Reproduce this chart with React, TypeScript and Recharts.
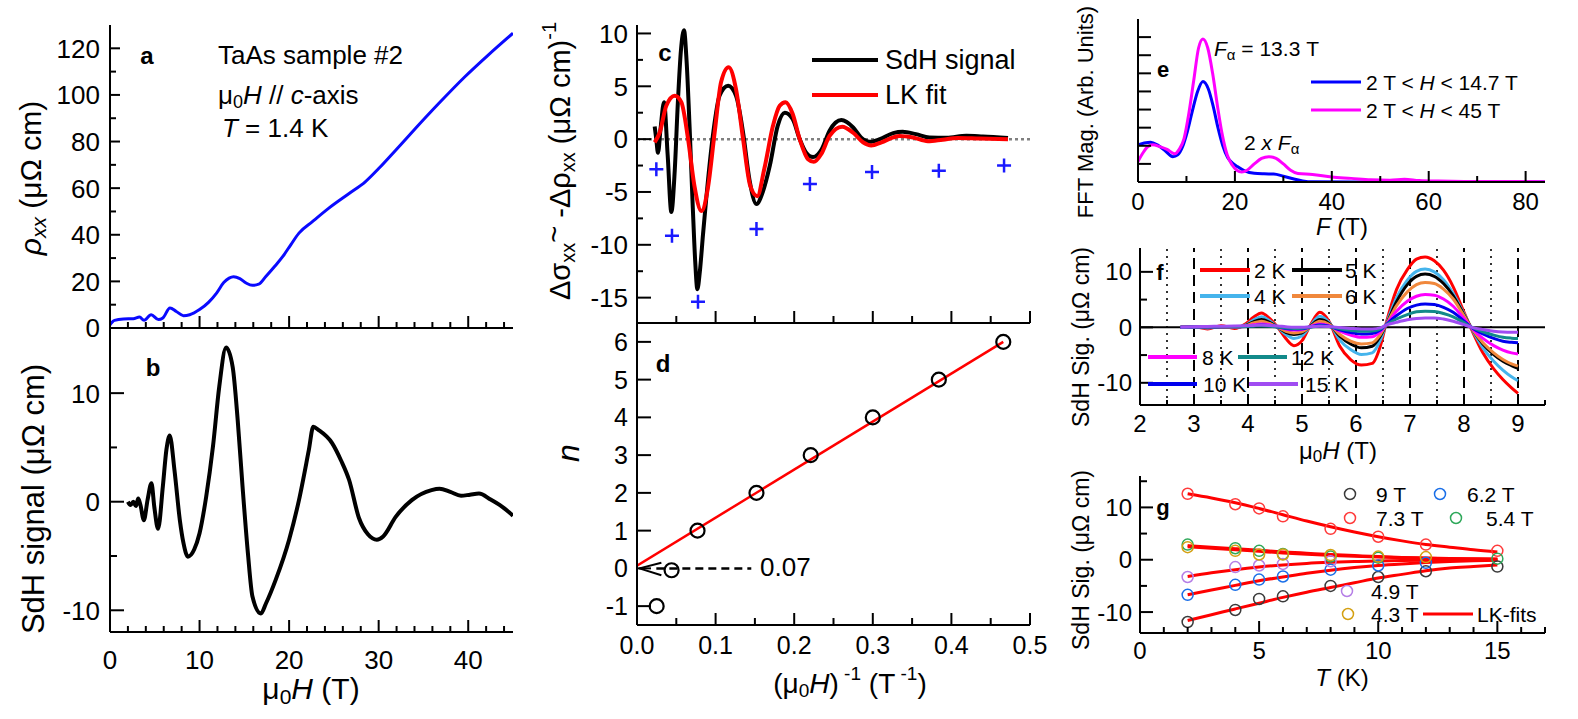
import React from 'react';
import { ComposedChart, Line, Scatter, XAxis, YAxis, ReferenceLine } from 'recharts';

const FONT = '"Liberation Sans", Arial, Helvetica, sans-serif';

// ---------- (a) resistivity vs field ----------
const rhoField = [0, 0.5, 1.5, 2.6, 3.3, 3.8, 4.6, 5.4, 5.9, 6.7, 7.4, 8.2, 8.9, 10, 11, 11.9, 12.7, 13.3, 13.8, 14.5, 15.2, 15.9, 16.6, 17.4, 18.4, 19.3, 20.2, 21.1, 22.6, 24.4, 26.7, 28.5, 30, 31.9, 34.1, 36.7, 39.6, 42.2, 45];
const rhoValue = [1.4, 3.3, 3.9, 4.0, 4.7, 3.3, 5.7, 3.6, 4.3, 8.6, 7.1, 5.3, 5.7, 7.9, 11, 15, 19.5, 21.4, 22.0, 21.2, 19.3, 18.3, 18.8, 22.1, 26.5, 30.7, 35.8, 40.7, 45.6, 51.3, 57.7, 62.7, 68.4, 76.3, 85.6, 96.3, 107.7, 117, 126.5];

// ---------- (b) SdH signal vs field ----------
const sdhField = [2.0, 2.3, 2.6, 2.9, 3.15, 3.4, 3.78, 4.2, 4.63, 4.95, 5.37, 5.9, 6.3, 6.67, 7.2, 7.8, 8.2, 8.7, 9.4, 10.0, 10.74, 11.5, 12.2, 12.96, 13.7, 14.26, 14.8, 15.4, 15.9, 16.85, 17.4, 18.5, 20.0, 21.1, 22.2, 22.7, 23.3, 24.8, 25.8, 26.7, 27.8, 28.8, 29.8, 30.5, 31.9, 33.7, 35.9, 36.8, 38.0, 39.2, 40.2, 41.2, 42.5, 43.5, 44.6, 45.0];
const sdhValue = [0, -0.3, 0.0, -0.4, 0.3, -0.3, -1.7, 0.2, 1.7, -0.5, -2.5, 1.4, 4.8, 6.1, 2.9, -1.7, -3.8, -5.06, -4.4, -2.9, 0.46, 5.1, 10.6, 14.2, 12.4, 7.5, 1.4, -4.75, -8.7, -10.3, -9.4, -7.2, -3.5, 0.15, 4.75, 6.9, 6.6, 5.4, 3.8, 2.0, -1.5, -3.0, -3.5, -3.2, -1.4, 0.15, 1.07, 1.2, 0.9, 0.55, 0.65, 0.75, 0.2, -0.3, -1.0, -1.3];

// ---------- (c) oscillatory conductivity vs inverse field ----------
const sigInvField = [0.0225, 0.0245, 0.0267, 0.03, 0.0344, 0.039, 0.0437, 0.048, 0.052, 0.056, 0.0598, 0.063, 0.067, 0.071, 0.074, 0.0768, 0.08, 0.084, 0.088, 0.097, 0.105, 0.116, 0.126, 0.135, 0.143, 0.152, 0.16, 0.169, 0.179, 0.188, 0.198, 0.207, 0.215, 0.224, 0.235, 0.245, 0.26, 0.275, 0.285, 0.296, 0.309, 0.326, 0.338, 0.355, 0.372, 0.394, 0.419, 0.44, 0.472];
const sigValue = [1.2, 0.0, -1.3, 1.0, 3.5, -1.5, -6.9, -3.0, 3.5, 8.5, 10.3, 7.5, 1.0, -6.5, -11.5, -14.2, -12.5, -9.0, -5.7, 0.6, 4.1, 5.05, 4.1, 0.6, -3.8, -6.15, -5.0, -2.5, 1.26, 2.5, 1.9, 0.0, -1.26, -1.7, -0.95, 0.8, 1.8, 1.1, 0.16, -0.25, 0.0, 0.57, 0.7, 0.47, 0.16, 0.13, 0.32, 0.25, 0.1];
const lkInvField = [0.0225, 0.0288, 0.0373, 0.048, 0.0564, 0.065, 0.073, 0.082, 0.09, 0.0988, 0.107, 0.1166, 0.126, 0.135, 0.144, 0.153, 0.162, 0.173, 0.1815, 0.189, 0.198, 0.207, 0.2176, 0.225, 0.2345, 0.245, 0.261, 0.275, 0.2875, 0.298, 0.311, 0.326, 0.334, 0.351, 0.37, 0.389, 0.408, 0.436, 0.472];
const lkValue = [-0.3, 0.6, 3.15, 4.1, 3.5, 0.0, -4.4, -6.8, -4.7, 0.63, 5.4, 6.8, 4.7, 0.0, -4.4, -5.4, -2.8, 1.26, 3.15, 3.5, 2.4, 0.0, -1.9, -2.15, -1.4, 0.3, 1.17, 0.6, -0.3, -0.6, -0.3, 0.16, 0.3, 0.16, -0.2, -0.05, 0.1, 0.05, 0.0];
const extremaInvField = [0.0246, 0.0445, 0.0776, 0.152, 0.22, 0.299, 0.384, 0.467];
const extremaValue = [-2.85, -9.15, -15.4, -8.5, -4.25, -3.1, -3.0, -2.5];

// ---------- (d) Landau level fan ----------
const fanInvField = [0.025, 0.044, 0.077, 0.152, 0.221, 0.3, 0.384, 0.466];
const fanIndex = [-1, -0.05, 1, 2, 3, 4, 5, 6];
const fanFitInvField = [0, 0.466];
const fanFitIndex = [0.07, 6.0];
const interceptLabel = '0.07';

// ---------- (e) FFT spectra ----------
const fftShortF = [0, 1.3, 2.6, 4, 5.5, 7.2, 8.2, 9.2, 10.2, 11.2, 12.3, 13.4, 14.5, 15.5, 16.5, 17.5, 18.5, 19.5, 20.5, 22, 24, 26, 28, 30, 32, 34, 36, 45, 84];
const fftShortMag = [2.05, 2.15, 2.2, 2.05, 1.75, 1.4, 1.5, 1.95, 2.8, 3.9, 5.0, 5.55, 5.15, 4.2, 3.0, 2.0, 1.35, 1.05, 0.85, 0.62, 0.48, 0.45, 0.44, 0.32, 0.18, 0.06, 0.01, 0, 0];
const fftFullF = [0, 1, 2, 3, 4.5, 6, 7.6, 8.5, 9.5, 10.5, 11.5, 12.5, 13.4, 14.4, 15.4, 16.4, 17.4, 18.4, 19.4, 20.4, 21.4, 22.5, 24, 25.5, 27, 28.5, 30, 31.5, 33, 36, 40, 44, 48, 52, 55, 58, 62, 70, 84];
const fftFullMag = [1.13, 1.6, 1.95, 2.05, 1.95, 1.8, 1.56, 1.8, 2.4, 3.8, 5.6, 7.4, 7.9, 7.4, 6.0, 4.2, 2.6, 1.5, 0.95, 0.65, 0.55, 0.65, 1.0, 1.3, 1.4, 1.3, 1.0, 0.65, 0.47, 0.42, 0.27, 0.2, 0.12, 0.1, 0.15, 0.08, 0.05, 0.03, 0.02];

// ---------- (f) SdH signal at several temperatures ----------
const tempField = [2.75, 3.0, 3.25, 3.5, 3.75, 3.95, 4.1, 4.25, 4.4, 4.55, 4.7, 4.85, 5.0, 5.15, 5.33, 5.5, 5.7, 5.9, 6.1, 6.3, 6.45, 6.56, 6.75, 6.95, 7.12, 7.28, 7.45, 7.62, 7.8, 7.98, 8.15, 8.35, 8.55, 8.72, 8.88, 9.0];
const sdh2K = [0, 0.1, -0.3, 0.3, -0.2, 0.6, 1.8, 2.6, 1.6, 0, -2.0, -3.3, -2.4, 0.3, 2.7, 1.1, -3.4, -5.8, -6.8, -6.5, -3.4, 0.8, 6.8, 10.4, 12.3, 12.7, 12.0, 10.3, 7.3, 3.2, -0.6, -4.6, -7.5, -9.4, -10.9, -11.9];
const sdh4K = [0, 0.05, -0.1, 0.1, 0, 0.4, 1.3, 1.9, 1.2, 0, -1.3, -2.0, -1.5, 0.2, 2.0, 0.9, -2.3, -4.0, -4.9, -4.6, -2.3, 0.6, 5.3, 8.5, 10.1, 10.5, 10.0, 8.6, 6.1, 2.8, -0.4, -3.7, -6.1, -7.7, -8.9, -9.6];
const sdh5K = [0, 0, 0, 0.05, 0, 0.3, 1.0, 1.4, 0.9, 0, -0.9, -1.3, -1.0, 0.15, 1.4, 0.7, -1.6, -3.0, -3.7, -3.4, -1.6, 0.5, 4.6, 7.7, 9.2, 9.6, 9.2, 7.9, 5.7, 2.6, -0.3, -3.0, -4.9, -6.1, -6.9, -7.4];
const sdh6K = [0, 0, 0, 0.05, 0, 0.25, 0.8, 1.1, 0.7, 0, -0.7, -1.0, -0.8, 0.1, 1.1, 0.55, -1.3, -2.5, -3.0, -2.8, -1.3, 0.5, 3.9, 6.4, 7.7, 8.1, 7.9, 6.9, 5.1, 2.4, -0.3, -2.8, -4.6, -5.8, -6.6, -7.0];
const sdh8K = [0, 0.05, 0.05, 0.1, 0.1, 0.2, 0.45, 0.6, 0.45, 0.05, -0.3, -0.5, -0.4, 0.1, 0.6, 0.3, -0.7, -1.4, -1.8, -1.7, -0.8, 0.5, 2.9, 4.7, 5.6, 5.9, 5.8, 5.1, 3.8, 1.8, -0.2, -2.0, -3.3, -4.1, -4.6, -4.8];
const sdh10K = [0, 0.05, 0.05, 0.1, 0.1, 0.15, 0.3, 0.4, 0.3, 0.05, -0.2, -0.3, -0.25, 0.05, 0.4, 0.2, -0.45, -0.95, -1.2, -1.1, -0.5, 0.5, 2.1, 3.4, 4.0, 4.2, 4.1, 3.6, 2.7, 1.3, -0.1, -1.2, -2.0, -2.5, -2.7, -2.8];
const sdh12K = [0, 0.05, 0.05, 0.1, 0.1, 0.15, 0.2, 0.25, 0.2, 0.05, -0.1, -0.2, -0.15, 0.05, 0.25, 0.15, -0.25, -0.55, -0.7, -0.65, -0.3, 0.45, 1.5, 2.3, 2.8, 2.9, 2.85, 2.5, 1.9, 0.95, 0, -0.8, -1.4, -1.8, -1.95, -2.0];
const sdh15K = [0, 0.1, 0.15, 0.2, 0.25, 0.3, 0.35, 0.4, 0.35, 0.25, 0.1, 0, 0, 0.1, 0.2, 0.15, -0.05, -0.2, -0.3, -0.3, -0.1, 0.4, 0.9, 1.35, 1.6, 1.7, 1.7, 1.5, 1.1, 0.55, 0, -0.4, -0.7, -0.85, -0.9, -0.9];
const tempLabels = ['2 K', '4 K', '5 K', '6 K', '8 K', '10 K', '12 K', '15 K'];
const halfTeslaMarks = [2.5, 3.5, 4.5, 5.5, 6.5, 7.5, 8.5];
const teslaMarks = [3, 4, 5, 6, 7, 8, 9];

// ---------- (g) amplitude vs temperature ----------
const fitTemp = [2, 3, 4, 5, 6, 7, 8, 9, 10, 11, 12, 13, 14, 15];
const fit9T = [-11.6, -10.5, -9.4, -8.3, -7.2, -6.2, -5.3, -4.4, -3.5, -2.8, -2.1, -1.6, -1.3, -1.0];
const fit73T = [12.6, 11.8, 10.9, 9.8, 8.6, 7.4, 6.3, 5.3, 4.4, 3.6, 2.9, 2.4, 1.9, 1.5];
const fit62T = [-6.7, -5.8, -4.9, -4.0, -3.3, -2.6, -2.0, -1.5, -1.1, -0.8, -0.55, -0.35, -0.2, -0.1];
const fit54T = [2.7, 2.4, 2.1, 1.8, 1.5, 1.25, 1.0, 0.8, 0.6, 0.45, 0.35, 0.25, 0.18, 0.12];
const fit49T = [-3.2, -2.5, -1.9, -1.4, -1.0, -0.7, -0.5, -0.35, -0.22, -0.15, -0.1, -0.06, -0.03, 0];
const fit43T = [2.5, 2.2, 1.9, 1.6, 1.3, 1.05, 0.85, 0.65, 0.5, 0.38, 0.28, 0.2, 0.14, 0.1];
const amp9TTemp = [2, 4, 5, 6, 8, 10, 12, 15];
const amp9T = [-11.9, -9.6, -7.5, -7.0, -5.0, -3.3, -2.2, -1.3];
const amp73TTemp = [2, 4, 5, 6, 8, 10, 12, 15];
const amp73T = [12.6, 10.6, 9.8, 8.3, 5.9, 4.4, 2.9, 1.7];
const amp62TTemp = [2, 4, 5, 6, 8, 10, 12];
const amp62T = [-6.7, -4.8, -3.8, -3.2, -1.9, -1.1, -0.6];
const amp54TTemp = [2, 4, 5, 6, 8, 10, 15];
const amp54T = [2.9, 2.2, 1.7, 1.1, 0.6, 0.4, 0.2];
const amp49TTemp = [2, 4, 5, 6, 8];
const amp49T = [-3.3, -1.4, -1.1, -0.8, -0.3];
const amp43TTemp = [2, 4, 5, 6, 8, 10, 12];
const amp43T = [2.4, 1.7, 1.0, 1.0, 0.9, 0.6, 0.5];

// ---------- tick lists ----------
const aXTicks = [0, 2, 4, 6, 8, 10, 12, 14, 16, 18, 20, 22, 24, 26, 28, 30, 32, 34, 36, 38, 40, 42, 44];
const aXMajor = [0, 10, 20, 30, 40];
const aYTicks = [0, 10, 20, 30, 40, 50, 60, 70, 80, 90, 100, 110, 120];
const aYMajor = [0, 20, 40, 60, 80, 100, 120];
const bYTicks = [-10, -5, 0, 5, 10];
const bYMajor = [-10, 0, 10];
const cdXTicks = [0, 0.05, 0.1, 0.15, 0.2, 0.25, 0.3, 0.35, 0.4, 0.45, 0.5];
const cdXMajor = [0, 0.1, 0.2, 0.3, 0.4, 0.5];
const cYTicks = [-15, -12.5, -10, -7.5, -5, -2.5, 0, 2.5, 5, 7.5, 10];
const cYMajor = [-15, -10, -5, 0, 5, 10];
const dYTicks = [-1, 0, 1, 2, 3, 4, 5, 6];
const eXTicks = [0, 10, 20, 30, 40, 50, 60, 70, 80];
const eXMajor = [0, 20, 40, 60, 80];
const eYTicks = [1, 2, 3, 4, 5, 6, 7, 8];
const fXTicks = [2, 2.5, 3, 3.5, 4, 4.5, 5, 5.5, 6, 6.5, 7, 7.5, 8, 8.5, 9, 9.5];
const fXMajor = [2, 3, 4, 5, 6, 7, 8, 9];
const fYTicks = [-10, -5, 0, 5, 10];
const fYMajor = [-10, 0, 10];
const gXTicks = [0, 1, 2, 3, 4, 5, 6, 7, 8, 9, 10, 11, 12, 13, 14, 15, 16, 17];
const gXMajor = [0, 5, 10, 15];
const gYTicks = [-10, -5, 0, 5, 10, 15];
const gYMajor = [-10, 0, 10];

const zip = (xs: number[], ys: number[]) => xs.map((x, i) => ({ x, y: ys[i] }));

type Rect = { x: number; y: number; w: number; h: number };
type Plot = { l: number; t: number; w: number; h: number };

const PAD_L = 90;
const PAD_R = 40;
const PAD_T = 18;
const PAD_B = 52;

function makeTick(
  side: 'bottom' | 'top' | 'left' | 'right',
  plot: Plot,
  major: number[],
  len: [number, number],
  label: boolean,
  fs: number,
  off: number,
  fmt: (v: number) => string
) {
  return (t: any) => {
    const v = Number(t.payload.value);
    const isMajor = major.some((m) => Math.abs(m - v) < 1e-6);
    const n = isMajor ? len[0] : len[1];
    const right = plot.l + plot.w;
    const bottom = plot.t + plot.h;
    let mark: React.ReactNode = null;
    let text: React.ReactNode = null;
    if (side === 'bottom') {
      mark = <line x1={t.x} x2={t.x} y1={bottom} y2={bottom - n} />;
      if (label && isMajor)
        text = (
          <text x={t.x} y={bottom + off} textAnchor="middle" dy="0.36em">
            {fmt(v)}
          </text>
        );
    } else if (side === 'top') {
      mark = <line x1={t.x} x2={t.x} y1={plot.t} y2={plot.t + n} />;
    } else if (side === 'left') {
      mark = <line x1={plot.l} x2={plot.l + n} y1={t.y} y2={t.y} />;
      if (label && isMajor)
        text = (
          <text x={plot.l - off} y={t.y} textAnchor="end" dy="0.36em">
            {fmt(v)}
          </text>
        );
    } else {
      mark = <line x1={right} x2={right - n} y1={t.y} y2={t.y} />;
    }
    return (
      <g>
        <g stroke="#000" strokeWidth={2}>
          {mark}
        </g>
        {text ? (
          <g fontSize={fs} fontFamily={FONT} fill="#000" stroke="none">
            {text}
          </g>
        ) : null}
      </g>
    );
  };
}

type PanelProps = {
  rect: Rect;
  xDomain: [number, number];
  yDomain: [number, number];
  xTicks: number[];
  xMajor: number[];
  yTicks: number[];
  yMajor: number[];
  xLabels: boolean;
  yLabels: boolean;
  xFmt?: (v: number) => string;
  fontSize: number;
  xOffset: number;
  yOffset: number;
  xLen: [number, number];
  yLen: [number, number];
  children?: React.ReactNode;
};

function Panel(p: PanelProps) {
  const W = p.rect.w + PAD_L + PAD_R;
  const H = p.rect.h + PAD_T + PAD_B;
  const plot: Plot = { l: PAD_L, t: PAD_T, w: p.rect.w, h: p.rect.h };
  const xf = p.xFmt ?? ((v: number) => String(v));
  const yf = (v: number) => String(v);
  const axisLine = { stroke: '#000', strokeWidth: 2 };
  return (
    <div style={{ position: 'absolute', left: p.rect.x - PAD_L, top: p.rect.y - PAD_T, width: W, height: H }}>
      <ComposedChart width={W} height={H} margin={{ top: PAD_T, right: PAD_R, bottom: 0, left: 0 }} style={{ overflow: 'visible' }}>
        <XAxis
          dataKey="x"
          type="number"
          domain={p.xDomain}
          allowDataOverflow
          ticks={p.xTicks}
          interval={0}
          tickSize={0}
          tickMargin={0}
          tickLine={false}
          axisLine={axisLine}
          height={PAD_B}
          tick={makeTick('bottom', plot, p.xMajor, p.xLen, p.xLabels, p.fontSize, p.xOffset, xf)}
        />
        <XAxis
          xAxisId="top"
          orientation="top"
          type="number"
          domain={p.xDomain}
          allowDataOverflow
          ticks={p.xTicks}
          interval={0}
          tickSize={0}
          tickMargin={0}
          tickLine={false}
          axisLine={axisLine}
          height={0}
          tick={makeTick('top', plot, p.xMajor, p.xLen, false, p.fontSize, 0, xf)}
        />
        <YAxis
          dataKey="y"
          type="number"
          domain={p.yDomain}
          allowDataOverflow
          ticks={p.yTicks}
          interval={0}
          tickSize={0}
          tickMargin={0}
          tickLine={false}
          axisLine={axisLine}
          width={PAD_L}
          tick={makeTick('left', plot, p.yMajor, p.yLen, p.yLabels, p.fontSize, p.yOffset, yf)}
        />
        <YAxis
          yAxisId="right"
          orientation="right"
          type="number"
          domain={p.yDomain}
          allowDataOverflow
          ticks={p.yTicks}
          interval={0}
          tickSize={0}
          tickMargin={0}
          tickLine={false}
          axisLine={axisLine}
          width={0}
          tick={makeTick('right', plot, p.yMajor, p.yLen, false, p.fontSize, 0, yf)}
        />
        {p.children}
      </ComposedChart>
    </div>
  );
}

const tempColors = ['#ff0000', '#45b4ec', '#000000', '#f0883c', '#ff00ff', '#0000ee', '#128a8a', '#a04cf2'];
const tempSeries = [sdh2K, sdh4K, sdh5K, sdh6K, sdh8K, sdh10K, sdh12K, sdh15K];

const ampSets = [
  { label: '9 T', t: amp9TTemp, v: amp9T, color: '#3a3a3a' },
  { label: '7.3 T', t: amp73TTemp, v: amp73T, color: '#ff3b3b' },
  { label: '6.2 T', t: amp62TTemp, v: amp62T, color: '#1a6fe8' },
  { label: '5.4 T', t: amp54TTemp, v: amp54T, color: '#2ea85a' },
  { label: '4.9 T', t: amp49TTemp, v: amp49T, color: '#b57ee6' },
  { label: '4.3 T', t: amp43TTemp, v: amp43T, color: '#d4a012' },
];
const fitSets = [fit9T, fit73T, fit62T, fit54T, fit49T, fit43T];

const ring = (color: string, r: number, w: number) => (s: any) => (
  <circle cx={s.cx} cy={s.cy} r={r} fill="none" stroke={color} strokeWidth={w} />
);
const cross = (s: any) => (
  <path d={`M${s.cx - 7},${s.cy}h14M${s.cx},${s.cy - 7}v14`} stroke="#1a1aff" strokeWidth={2.5} fill="none" />
);

export default function App() {
  const A: Rect = { x: 110, y: 25, w: 403, h: 303 };
  const B: Rect = { x: 110, y: 328, w: 403, h: 304 };
  const C: Rect = { x: 637, y: 25, w: 393, h: 298 };
  const D: Rect = { x: 637, y: 323, w: 393, h: 302 };
  const E: Rect = { x: 1138, y: 19, w: 407, h: 163 };
  const F: Rect = { x: 1140, y: 248, w: 405, h: 157 };
  const G: Rect = { x: 1140, y: 476, w: 405, h: 157 };

  const t = (x: number, y: number, fs: number, content: React.ReactNode, extra: any = {}) => (
    <text x={x} y={y} fontSize={fs} dominantBaseline="central" {...extra}>
      {content}
    </text>
  );

  return (
    <div style={{ position: 'absolute', left: 0, top: 0, width: 1578, height: 719, background: '#fff', overflow: 'hidden' }}>
      {/* (a) */}
      <Panel rect={A} xDomain={[0, 45]} yDomain={[0, 130]} xTicks={aXTicks} xMajor={aXMajor} yTicks={aYTicks} yMajor={aYMajor}
        xLabels={false} yLabels fontSize={26} xOffset={28} yOffset={10} xLen={[12, 6]} yLen={[10, 6]}>
        <Line data={zip(rhoField, rhoValue)} dataKey="y" type="monotone" stroke="#0a0aff" strokeWidth={3} dot={false} isAnimationActive={false} />
      </Panel>
      {/* (b) */}
      <Panel rect={B} xDomain={[0, 45]} yDomain={[-12, 16]} xTicks={aXTicks} xMajor={aXMajor} yTicks={bYTicks} yMajor={bYMajor}
        xLabels yLabels fontSize={26} xOffset={28} yOffset={10} xLen={[12, 6]} yLen={[14, 7]}>
        <Line data={zip(sdhField, sdhValue)} dataKey="y" type="monotone" stroke="#000" strokeWidth={4} dot={false} isAnimationActive={false} />
      </Panel>
      {/* (c) */}
      <Panel rect={C} xDomain={[0, 0.5]} yDomain={[-17.4, 10.8]} xTicks={cdXTicks} xMajor={cdXMajor} yTicks={cYTicks} yMajor={cYMajor}
        xLabels={false} yLabels fontSize={26} xOffset={20} yOffset={9} xLen={[12, 7]} yLen={[14, 6]}>
        <ReferenceLine y={0} stroke="#808080" strokeWidth={2.5} strokeDasharray="3 3" />
        <Line data={zip(sigInvField, sigValue)} dataKey="y" type="monotone" stroke="#000" strokeWidth={4} dot={false} isAnimationActive={false} />
        <Line data={zip(lkInvField, lkValue)} dataKey="y" type="monotone" stroke="#ff0000" strokeWidth={4} dot={false} isAnimationActive={false} />
        <Scatter data={zip(extremaInvField, extremaValue)} dataKey="y" shape={cross} isAnimationActive={false} />
      </Panel>
      {/* (d) */}
      <Panel rect={D} xDomain={[0, 0.5]} yDomain={[-1.5, 6.5]} xTicks={cdXTicks} xMajor={cdXMajor} yTicks={dYTicks} yMajor={dYTicks}
        xLabels yLabels xFmt={(v) => v.toFixed(1)} fontSize={25} xOffset={20} yOffset={9} xLen={[12, 7]} yLen={[14, 14]}>
        <Line data={zip(fanFitInvField, fanFitIndex)} dataKey="y" type="linear" stroke="#ff0000" strokeWidth={2.5} dot={false} isAnimationActive={false} />
        <ReferenceLine segment={[{ x: 0.0246, y: 0 }, { x: 0.1454, y: 0 }]} stroke="#000" strokeWidth={2.5} strokeDasharray="8 5" />
        <ReferenceLine segment={[{ x: 0.003, y: 0 }, { x: 0.031, y: 0.15 }]} stroke="#000" strokeWidth={2} />
        <ReferenceLine segment={[{ x: 0.003, y: 0 }, { x: 0.031, y: -0.18 }]} stroke="#000" strokeWidth={2} />
        <Scatter data={zip(fanInvField, fanIndex)} dataKey="y" shape={ring('#000', 7, 2.2)} isAnimationActive={false} />
      </Panel>
      {/* (e) */}
      <Panel rect={E} xDomain={[0, 84]} yDomain={[0, 9]} xTicks={eXTicks} xMajor={eXMajor} yTicks={eYTicks} yMajor={eYTicks}
        xLabels yLabels={false} fontSize={24} xOffset={19} yOffset={8} xLen={[11, 6]} yLen={[13, 13]}>
        <Line data={zip(fftShortF, fftShortMag)} dataKey="y" type="monotone" stroke="#0000ff" strokeWidth={3} dot={false} isAnimationActive={false} />
        <Line data={zip(fftFullF, fftFullMag)} dataKey="y" type="monotone" stroke="#ff00ff" strokeWidth={3} dot={false} isAnimationActive={false} />
      </Panel>
      {/* (f) */}
      <Panel rect={F} xDomain={[2, 9.5]} yDomain={[-14, 14.3]} xTicks={fXTicks} xMajor={fXMajor} yTicks={fYTicks} yMajor={fYMajor}
        xLabels yLabels fontSize={24} xOffset={18} yOffset={8} xLen={[10, 5]} yLen={[13, 7]}>
        {halfTeslaMarks.map((v) => (
          <ReferenceLine key={'h' + v} x={v} stroke="#000" strokeWidth={1.6} strokeDasharray="2 5" />
        ))}
        {teslaMarks.map((v) => (
          <ReferenceLine key={'t' + v} x={v} stroke="#000" strokeWidth={2} strokeDasharray="11 6" />
        ))}
        <ReferenceLine y={0} stroke="#000" strokeWidth={2} />
        {tempSeries.map((s, i) => (
          <Line key={tempLabels[i]} data={zip(tempField, s)} dataKey="y" type="monotone" stroke={tempColors[i]} strokeWidth={3} dot={false} isAnimationActive={false} />
        ))}
      </Panel>
      {/* (g) */}
      <Panel rect={G} xDomain={[0, 17]} yDomain={[-14, 16]} xTicks={gXTicks} xMajor={gXMajor} yTicks={gYTicks} yMajor={gYMajor}
        xLabels yLabels fontSize={24} xOffset={17} yOffset={8} xLen={[12, 6]} yLen={[13, 7]}>
        {fitSets.map((f, i) => (
          <Line key={'fit' + i} data={zip(fitTemp, f)} dataKey="y" type="monotone" stroke="#ff0000" strokeWidth={3} dot={false} isAnimationActive={false} />
        ))}
        {ampSets.map((s) => (
          <Scatter key={s.label} data={zip(s.t, s.v)} dataKey="y" shape={ring(s.color, 5.5, 1.5)} isAnimationActive={false} />
        ))}
      </Panel>

      {/* titles, annotations and legends */}
      <svg width={1578} height={719} style={{ position: 'absolute', left: 0, top: 0, pointerEvents: 'none' }} fontFamily={FONT} fill="#000">
        {/* panel letters */}
        {t(147, 55, 24, 'a', { fontWeight: 'bold', textAnchor: 'middle' })}
        {t(153, 367, 24, 'b', { fontWeight: 'bold', textAnchor: 'middle' })}
        {t(665, 52, 24, 'c', { fontWeight: 'bold', textAnchor: 'middle' })}
        {t(663, 363, 24, 'd', { fontWeight: 'bold', textAnchor: 'middle' })}
        {t(1163, 69, 22, 'e', { fontWeight: 'bold', textAnchor: 'middle' })}
        {t(1160, 272, 22, 'f', { fontWeight: 'bold', textAnchor: 'middle' })}
        {t(1163, 507, 22, 'g', { fontWeight: 'bold', textAnchor: 'middle' })}

        {/* (a) annotations */}
        {t(218, 55, 26, 'TaAs sample #2')}
        {t(218, 95, 26, <>
          μ<tspan fontSize={18} dy={7}>0</tspan><tspan dy={-7} fontStyle="italic">H</tspan> // <tspan fontStyle="italic">c</tspan>-axis
        </>)}
        {t(222, 128, 26, <><tspan fontStyle="italic">T</tspan> = 1.4 K</>)}
        <text transform="translate(30,178) rotate(-90)" fontSize={30} textAnchor="middle" dominantBaseline="central">
          <tspan fontStyle="italic">ρ</tspan>
          <tspan fontStyle="italic" fontSize={21} dy={8}>xx</tspan>
          <tspan dy={-8}> (μΩ cm)</tspan>
        </text>

        {/* (b) */}
        <text transform="translate(33,499) rotate(-90)" fontSize={31} textAnchor="middle" dominantBaseline="central">SdH signal (μΩ cm)</text>
        <text x={311} y={688} fontSize={30} textAnchor="middle" dominantBaseline="central">
          μ<tspan fontSize={21} dy={8}>0</tspan><tspan dy={-8} fontStyle="italic">H</tspan> (T)
        </text>

        {/* (c) */}
        <text transform="translate(560,161) rotate(-90)" fontSize={29} textAnchor="middle" dominantBaseline="central">
          Δσ<tspan fontSize={20} dy={8}>xx</tspan>
          <tspan dy={-14}>~</tspan>
          <tspan dy={6}> -Δρ</tspan>
          <tspan fontSize={20} dy={8}>xx</tspan>
          <tspan dy={-8}> (μΩ cm)</tspan>
          <tspan fontSize={20} dy={-11}>-1</tspan>
        </text>
        <line x1={812} x2={878} y1={60} y2={60} stroke="#000" strokeWidth={4} />
        {t(885, 60, 27, 'SdH signal')}
        <line x1={812} x2={878} y1={95} y2={95} stroke="#ff0000" strokeWidth={4} />
        {t(885, 95, 27, 'LK fit')}

        {/* (d) */}
        <text transform="translate(568,453) rotate(-90)" fontSize={32} fontStyle="italic" textAnchor="middle" dominantBaseline="central">n</text>
        {t(760, 567, 26, interceptLabel)}
        <text x={850} y={683} fontSize={28} textAnchor="middle" dominantBaseline="central">
          (μ<tspan fontSize={19} dy={7}>0</tspan><tspan dy={-7} fontStyle="italic">H</tspan>)
          <tspan fontSize={19} dy={-10}> -1</tspan>
          <tspan dy={10}> (T</tspan>
          <tspan fontSize={19} dy={-10}> -1</tspan>
          <tspan dy={10}>)</tspan>
        </text>

        {/* (e) */}
        {t(1214, 48, 21, <><tspan fontStyle="italic">F</tspan><tspan fontSize={15} dy={6}>α</tspan><tspan dy={-6}> = 13.3 T</tspan></>)}
        {t(1244, 142, 21, <>2 <tspan fontStyle="italic">x F</tspan><tspan fontSize={15} dy={6}>α</tspan></>)}
        <line x1={1311} x2={1361} y1={82} y2={82} stroke="#0000ff" strokeWidth={3} />
        {t(1366, 82, 21, <>2 T &lt; <tspan fontStyle="italic">H</tspan> &lt; 14.7 T</>)}
        <line x1={1311} x2={1361} y1={110} y2={110} stroke="#ff00ff" strokeWidth={3} />
        {t(1366, 110, 21, <>2 T &lt; <tspan fontStyle="italic">H</tspan> &lt; 45 T</>)}
        <text transform="translate(1085,112) rotate(-90)" fontSize={22} textAnchor="middle" dominantBaseline="central">FFT Mag. (Arb. Units)</text>
        <text x={1342} y={226} fontSize={24} textAnchor="middle" dominantBaseline="central">
          <tspan fontStyle="italic">F</tspan> (T)
        </text>

        {/* (f) legend */}
        {[
          [1200, 1250, 270, 1254, 0],
          [1292, 1342, 270, 1345, 2],
          [1200, 1250, 296, 1254, 1],
          [1292, 1342, 296, 1345, 3],
          [1148, 1197, 357, 1202, 4],
          [1238, 1287, 357, 1291, 6],
          [1148, 1197, 384, 1203, 5],
          [1249, 1298, 384, 1305, 7],
        ].map(([x1, x2, y, tx, k]) => (
          <g key={'fl' + k}>
            <line x1={x1} x2={x2} y1={y} y2={y} stroke={tempColors[k]} strokeWidth={4} />
            {t(tx, y, 21, tempLabels[k])}
          </g>
        ))}
        <text transform="translate(1081,337) rotate(-90)" fontSize={23} textAnchor="middle" dominantBaseline="central">SdH Sig.  (μΩ cm)</text>
        <text x={1338} y={450} fontSize={24} textAnchor="middle" dominantBaseline="central">
          μ<tspan fontSize={17} dy={6}>0</tspan><tspan dy={-6} fontStyle="italic">H</tspan> (T)
        </text>

        {/* (g) legend */}
        {[
          [1350, 494, 1376, 0],
          [1440, 494, 1467, 2],
          [1350, 518, 1376, 1],
          [1456, 518, 1486, 3],
          [1347, 591, 1371, 4],
          [1348, 614, 1371, 5],
        ].map(([cx, cy, tx, k]) => (
          <g key={'gl' + k}>
            <circle cx={cx} cy={cy} r={5.5} fill="none" stroke={ampSets[k].color} strokeWidth={1.5} />
            {t(tx, cy, 21, ampSets[k].label)}
          </g>
        ))}
        <line x1={1423} x2={1473} y1={614} y2={614} stroke="#ff0000" strokeWidth={3} />
        {t(1477, 614, 21, 'LK-fits')}
        <text transform="translate(1081,560) rotate(-90)" fontSize={23} textAnchor="middle" dominantBaseline="central">SdH Sig.  (μΩ cm)</text>
        <text x={1342} y={677} fontSize={24} textAnchor="middle" dominantBaseline="central">
          <tspan fontStyle="italic">T</tspan> (K)
        </text>
      </svg>
    </div>
  );
}
